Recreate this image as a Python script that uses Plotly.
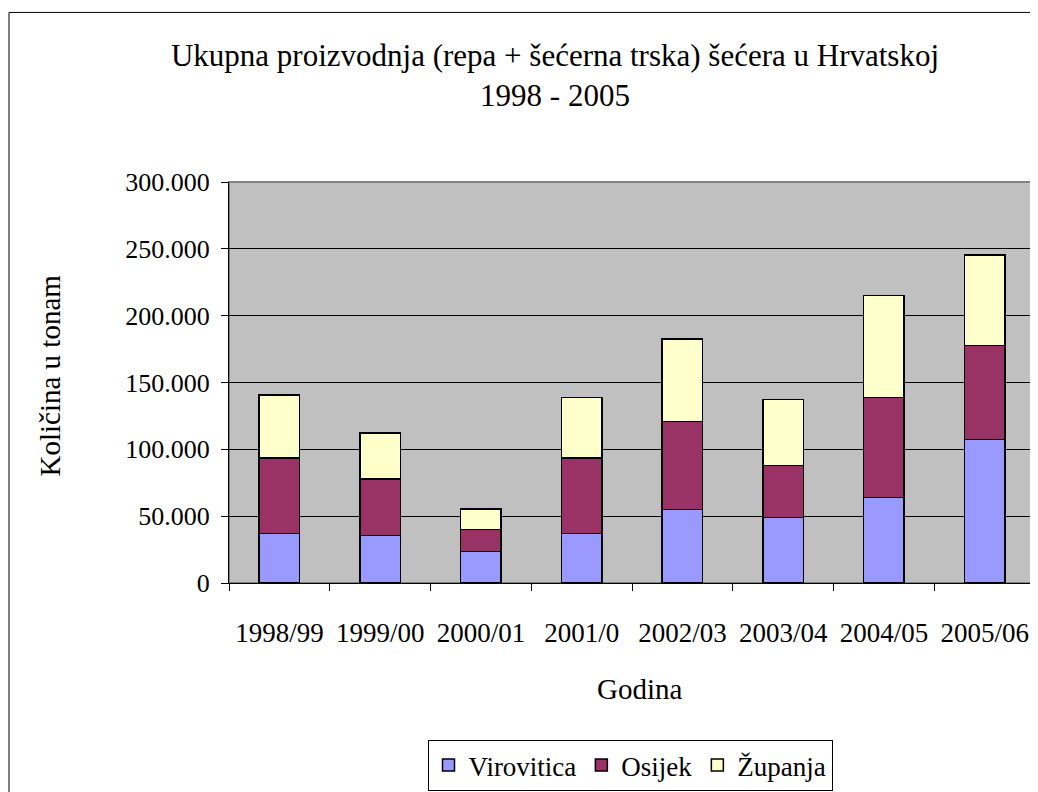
import plotly.graph_objects as go

categories = ["1998/99", "1999/00", "2000/01", "2001/0", "2002/03", "2003/04", "2004/05", "2005/06"]
virovitica = [37200, 35700, 23700, 37200, 55100, 49100, 64100, 107500]
osijek = [56500, 42100, 16500, 56500, 65900, 38700, 74800, 70000]
zupanja = [46900, 34400, 15200, 45200, 61500, 49600, 76100, 67900]
y_ticks = [0, 50000, 100000, 150000, 200000, 250000, 300000]

FONT = "Liberation Serif"
OFF = 8  # page body margin

fig = go.Figure()
for name, vals, col in [("Virovitica", virovitica, "#9999FF"),
                        ("Osijek", osijek, "#993366"),
                        ("Županja", zupanja, "#FFFFCC")]:
    fig.add_trace(go.Bar(x=categories, y=vals, name=name,
                         marker=dict(color=col, line=dict(color="black", width=1.5))))

W, H = 1038 - OFF, 792 - OFF
L, R, T, B = 229 - OFF, 3, 182 - OFF, 208
pw, ph = W - L - R, H - T - B

def px(x):
    return (x - OFF - L) / pw

def py(y):
    return (H - B - (y - OFF)) / ph

fig.update_layout(
    width=W, height=H,
    margin=dict(l=L, r=R, t=T, b=B),
    barmode="stack", bargap=0.6,
    paper_bgcolor="white", plot_bgcolor="#C0C0C0",
    separators=",.",
    font=dict(family=FONT, size=26, color="black"),
    showlegend=True,
    legend=dict(orientation="h", x=px(630), xanchor="center", y=py(740), yanchor="top",
                bordercolor="black", borderwidth=1, bgcolor="white",
                font=dict(family=FONT, size=27), itemwidth=30, traceorder="normal"),
    title=dict(text="Ukupna proizvodnja (repa + šećerna trska) šećera u Hrvatskoj<br>1998 - 2005",
               x=px(555), xanchor="center", xref="paper", y=1 - (66 - OFF) / H, yanchor="top",
               font=dict(family=FONT, size=31)),
    xaxis=dict(type="category", tickson="boundaries", ticks="outside", ticklen=7,
               tickcolor="black", showline=True, linecolor="black", linewidth=1,
               showgrid=False, ticklabelstandoff=26, tickfont=dict(family=FONT, size=27)),
    yaxis=dict(range=[0, 300000], tickvals=y_ticks, tickformat=",d", ticks="outside",
               ticklen=7, tickcolor="black", showline=True, linecolor="black", linewidth=1,
               showgrid=True, gridcolor="black", gridwidth=1, zeroline=False,
               tickfont=dict(family=FONT, size=26), ticklabelstandoff=6),
    shapes=[
        dict(type="rect", xref="paper", yref="paper", x0=0, x1=1, y0=0, y1=1,
             line=dict(color="#808080", width=2), layer="between"),
        dict(type="rect", xref="paper", yref="paper", x0=px(9), x1=px(1060), y0=py(820), y1=py(12),
             line=dict(color="black", width=1), layer="below"),
    ],
    annotations=[
        dict(text="Količina u tonam", xref="paper", yref="paper", x=px(50), y=py(376),
             textangle=-90, showarrow=False, xanchor="center", yanchor="middle",
             font=dict(family=FONT, size=29)),
        dict(text="Godina", xref="paper", yref="paper", x=px(640), y=py(690),
             showarrow=False, xanchor="center", yanchor="middle",
             font=dict(family=FONT, size=29)),
    ],
)

fig.write_html("out.html")
